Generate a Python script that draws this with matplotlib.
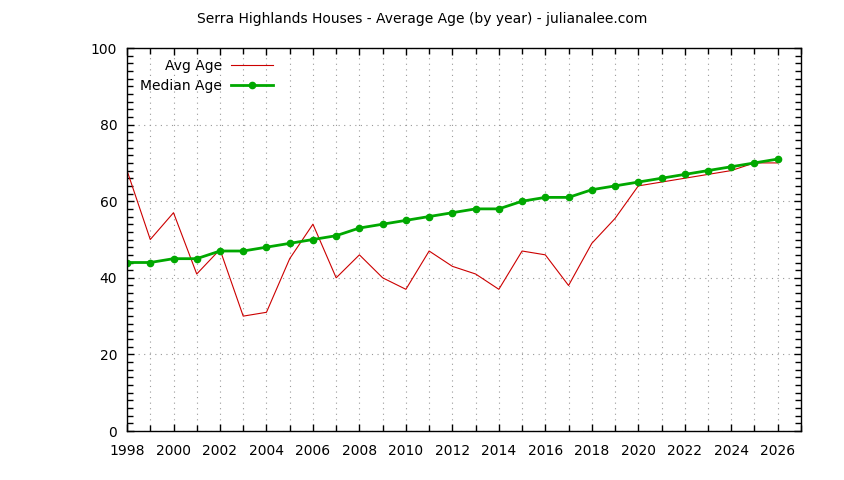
import matplotlib
matplotlib.use("Agg")
import matplotlib.pyplot as plt
from matplotlib.ticker import MultipleLocator

years = list(range(1998, 2027))
avg_age = [68, 50, 57, 41, 47.4, 30, 31, 45, 54, 40, 46, 40, 37, 47, 43, 41, 37,
           47, 46, 38, 49, 55.5, 64, 65, 66, 67, 68, 70, 70]
median_age = [44, 44, 45, 45, 47, 47, 48, 49, 50, 51, 53, 54, 55, 56, 57, 58, 58,
              60, 61, 61, 63, 64, 65, 66, 67, 68, 69, 70, 71]

plt.rcParams["font.family"] = "DejaVu Sans"
plt.rcParams["font.size"] = 10

fig = plt.figure(figsize=(8.44, 4.8), dpi=100)
ax = fig.add_axes([0.1505, 0.102, 0.7985, 0.798])

ax.plot(years, avg_age, color="#cc0000", lw=0.8, label="Avg Age")
ax.plot(years, median_age, color="#00a800", lw=2, marker="o", ms=4.5,
        label="Median Age")

ax.set_xlim(1998, 2027)
ax.set_ylim(0, 100)
ax.xaxis.set_major_locator(MultipleLocator(2))
ax.xaxis.set_minor_locator(MultipleLocator(1))
ax.yaxis.set_major_locator(MultipleLocator(20))
ax.yaxis.set_minor_locator(MultipleLocator(2))
ax.set_xticks(range(1998, 2027, 2))

ax.tick_params(which="both", direction="in", top=True, right=True, length=5,
               width=1, labelsize=10)
ax.tick_params(which="minor", length=4)
ax.tick_params(axis="x", pad=9)
ax.tick_params(axis="y", pad=7)
ax.grid(which="both", axis="x", color="#999999", ls=(0, (1, 4)), lw=0.8)
ax.grid(which="major", axis="y", color="#999999", ls=(0, (1, 4)), lw=0.8)
for s in ax.spines.values():
    s.set_linewidth(1)

fig.text(0.5, 0.96, "Serra Highlands Houses - Average Age (by year) - julianalee.com",
         ha="center", va="center", fontsize=10)

ax.legend(loc="upper left", bbox_to_anchor=(0.019, 0.972), frameon=False,
          markerfirst=False, handlelength=3, handletextpad=0.7,
          labelspacing=0.42, borderpad=0, borderaxespad=0, fontsize=10)

fig.savefig("out.png", dpi=100)
